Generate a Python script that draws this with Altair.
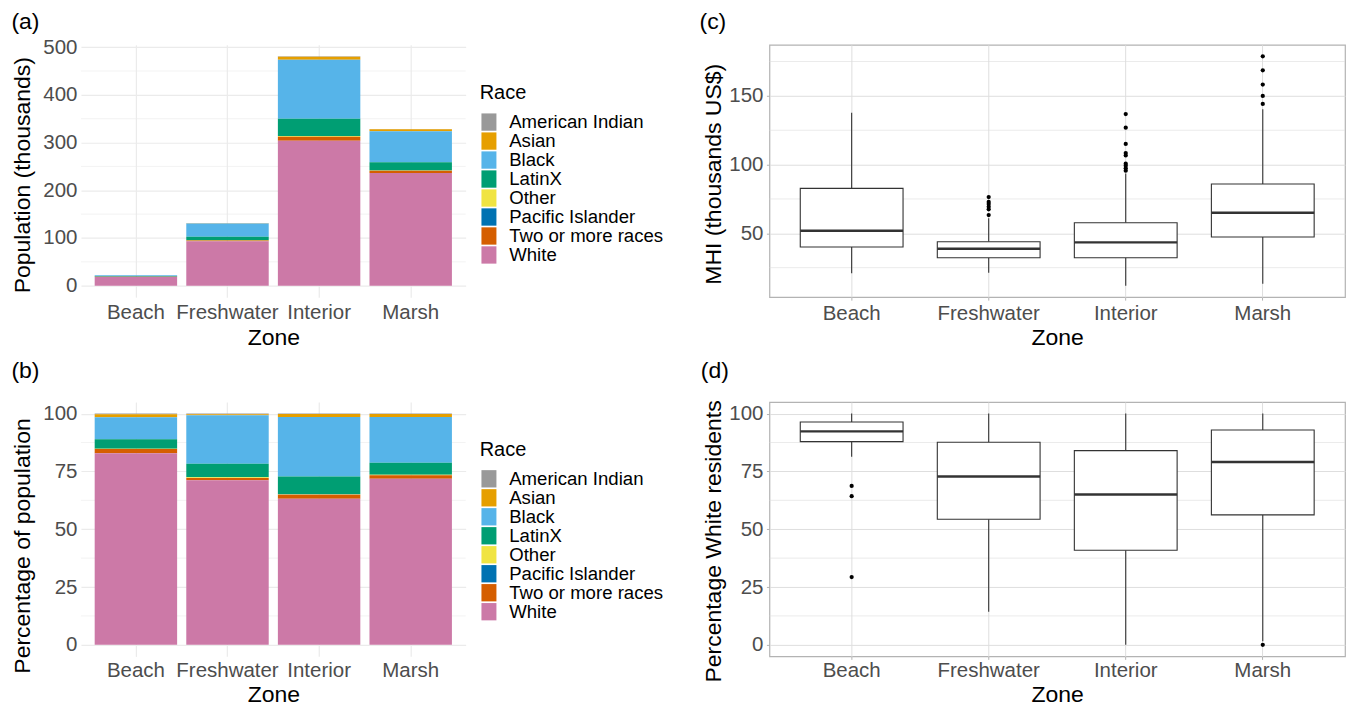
import altair as alt
import pandas as pd

FONT = "Liberation Sans"

zones = ["Beach", "Freshwater", "Interior", "Marsh"]
races = ["American Indian", "Asian", "Black", "LatinX", "Other",
         "Pacific Islander", "Two or more races", "White"]
race_colors = ["#999999", "#E69F00", "#56B4E9", "#009E73", "#F0E442",
               "#0072B2", "#D55E00", "#CC79A7"]

# population (thousands) per zone, in the order of `races`
pop_beach = [0.05, 0.3, 2.1, 0.9, 0.03, 0.01, 0.4, 18.3]
pop_freshwater = [0.4, 0.5, 27.6, 7.6, 0.4, 0.05, 1.3, 93.3]
pop_interior = [0.8, 6.2, 124.0, 36.0, 1.4, 0.2, 8.2, 304.0]
pop_marsh = [0.6, 4.2, 65.0, 17.0, 0.6, 0.1, 4.9, 236.0]

# MHI (thousands US$) box statistics per zone
mhi_lower = [20.9, 21.3, 11.9, 13.3]
mhi_q1 = [40.0, 32.2, 32.2, 47.3]
mhi_median = [51.9, 38.8, 43.4, 65.0]
mhi_q3 = [82.7, 43.9, 57.7, 85.9]
mhi_upper = [137.8, 61.0, 93.5, 140.2]
mhi_out_beach = []
mhi_out_freshwater = [63.3, 67.5, 69.4, 71.3, 72.8, 76.4]
mhi_out_interior = [95.6, 97.3, 99.2, 100.7, 106.7, 108.4, 115.0, 126.9, 136.8]
mhi_out_marsh = [144.1, 150.0, 158.2, 168.6, 178.8]

# Percentage White residents box statistics per zone
pw_lower = [81.3, 14.3, 0.0, 1.5]
pw_q1 = [87.9, 54.3, 40.9, 56.2]
pw_median = [92.3, 72.8, 65.0, 79.1]
pw_q3 = [96.4, 87.6, 84.0, 92.9]
pw_upper = [100.0, 100.0, 100.0, 100.0]
pw_out_beach = [68.7, 64.3, 29.3]
pw_out_freshwater = []
pw_out_interior = []
pw_out_marsh = [0.0]

# axis breaks
a_major = [0, 100, 200, 300, 400, 500]
a_minor = [50, 150, 250, 350, 450]
b_major = [0, 25, 50, 75, 100]
b_minor = [12.5, 37.5, 62.5, 87.5]
c_major = [50, 100, 150]
c_minor = [25, 75, 125, 175]
d_major = [0, 25, 50, 75, 100]
d_minor = [12.5, 37.5, 62.5, 87.5]

panel_tags = ["(a)", "(b)", "(c)", "(d)"]

# ---------------- data tables ----------------
rows = []
for z, vals in zip(zones, [pop_beach, pop_freshwater, pop_interior, pop_marsh]):
    for i, (r, v) in enumerate(zip(races, vals)):
        rows.append({"zone": z, "race": r, "race_idx": i, "pop": v})
pop_df = pd.DataFrame(rows)

mhi_df = pd.DataFrame({"zone": zones, "lower": mhi_lower, "q1": mhi_q1,
                       "median": mhi_median, "q3": mhi_q3, "upper": mhi_upper})
mhi_out_df = pd.DataFrame(
    [{"zone": z, "value": v} for z, lst in zip(zones, [mhi_out_beach, mhi_out_freshwater,
                                                       mhi_out_interior, mhi_out_marsh]) for v in lst])
pw_df = pd.DataFrame({"zone": zones, "lower": pw_lower, "q1": pw_q1,
                      "median": pw_median, "q3": pw_q3, "upper": pw_upper})
pw_out_df = pd.DataFrame(
    [{"zone": z, "value": v} for z, lst in zip(zones, [pw_out_beach, pw_out_freshwater,
                                                      pw_out_interior, pw_out_marsh]) for v in lst])

def expand(lo, hi):
    r = hi - lo
    return [lo - 0.05 * r, hi + 0.05 * r]

totals = pop_df.groupby("zone")["pop"].sum()
a_domain = expand(0, float(totals.max()))
b_domain = expand(0, 100)
c_domain = expand(min(min(mhi_lower), mhi_out_df["value"].min()),
                  max(max(mhi_upper), mhi_out_df["value"].max()))
d_domain = expand(min(min(pw_lower), pw_out_df["value"].min()),
                  max(max(pw_upper), pw_out_df["value"].max()))

W1, W2 = 385, 576
H_TOP, H_BOT = 252.5, 254.5

TICK_COL = "#4D4D4D"

def x_axis(light, label_pad, title_y):
    kw = dict(title="Zone", bandPosition=0.5, grid=True, domain=False, labelAngle=0,
              labelFontSize=20.5, labelColor=TICK_COL, labelFont=FONT,
              labelBaseline="alphabetic", labelOverlap=False, labelPadding=label_pad,
              titleFontSize=23, titleFont=FONT, titleFontWeight="normal", titleColor="black",
              titleBaseline="alphabetic", titleY=title_y)
    if light:
        kw.update(gridColor="#DEDEDE", gridWidth=1.0, ticks=True, tickColor="#B3B3B3",
                  tickSize=3, tickWidth=1.0)
    else:
        kw.update(gridColor="#EBEBEB", gridWidth=1.2, ticks=False)
    return alt.Axis(**kw)

def y_axis(title, values, light, title_x, title_y):
    kw = dict(title=title, values=values, grid=True, domain=False,
              labelFontSize=20.5, labelColor=TICK_COL, labelFont=FONT,
              titleFontSize=23, titleFont=FONT, titleFontWeight="normal", titleColor="black",
              titleX=title_x, titleY=title_y, titleAngle=270, titleBaseline="alphabetic",
              titleAlign="center")
    if light:
        kw.update(gridColor="#DEDEDE", gridWidth=1.0, ticks=True, tickColor="#B3B3B3",
                  tickSize=3, tickWidth=1.0, labelPadding=3.5)
    else:
        kw.update(gridColor="#EBEBEB", gridWidth=1.2, ticks=False, labelPadding=4)
    return alt.Axis(**kw)

def tag_layer(tag, x, y):
    return alt.Chart(pd.DataFrame({"tag": [tag]})).mark_text(
        align="left", baseline="alphabetic", fontSize=23, font=FONT, color="black"
    ).encode(text="tag:N", x=alt.value(x), y=alt.value(y))

KEY_PATH = "M-0.866,-1L0.866,-1L0.866,1L-0.866,1Z"

def race_legend(ly, tp):
    return alt.Legend(title="Race", orient="none", legendX=399, legendY=ly,
                      titleFontSize=20, titleFont=FONT, titleFontWeight="normal",
                      titleColor="black", titlePadding=tp,
                      labelFontSize=18.6, labelFont=FONT, labelColor="black",
                      symbolType=KEY_PATH, symbolSize=300, symbolStrokeWidth=0,
                      symbolOpacity=1, rowPadding=-0.75, labelOffset=11, padding=0)

color_scale = alt.Scale(domain=races, range=race_colors)
x_bar_scale = alt.Scale(domain=zones, paddingInner=0.1, paddingOuter=0.15)
x_box_scale = alt.Scale(domain=zones, paddingInner=0.25, paddingOuter=0.225)

def minor_rules(values, field, scale, axis, color, width):
    return alt.Chart(pd.DataFrame({field: values})).mark_rule(
        color=color, strokeWidth=width).encode(
        y=alt.Y(f"{field}:Q", scale=scale, axis=axis))

# ---------------- panel (a) ----------------
ya_scale = alt.Scale(domain=a_domain, nice=False, zero=False)
ya_axis = y_axis("Population (thousands)", a_major, False, -51.5, 130)
xa = alt.X("zone:N", sort=zones, scale=x_bar_scale, axis=x_axis(False, 21.7, 47.5))
a_minor_l = minor_rules(a_minor, "pop", ya_scale, ya_axis, "#EBEBEB", 0.6)
a_bars = alt.Chart(pop_df).mark_bar().encode(
    x=xa,
    y=alt.Y("pop:Q", stack="zero", scale=ya_scale, axis=ya_axis),
    color=alt.Color("race:N", scale=color_scale, legend=race_legend(38, 10)),
    order=alt.Order("race_idx:Q", sort="descending"),
)
panel_a = alt.layer(a_minor_l, a_bars, tag_layer(panel_tags[0], -69.6, -16.3)).properties(
    width=W1, height=H_TOP)

# ---------------- panel (b) ----------------
yb_scale = alt.Scale(domain=b_domain, nice=False, zero=False)
yb_axis = y_axis("Percentage of population", b_major, False, -51.5, 143.5)
xb = alt.X("zone:N", sort=zones, scale=x_bar_scale, axis=x_axis(False, 20, 45))
b_minor_l = minor_rules(b_minor, "pct", yb_scale, yb_axis, "#EBEBEB", 0.6)
b_bars = alt.Chart(pop_df).transform_joinaggregate(
    total="sum(pop)", groupby=["zone"]
).transform_calculate(
    pct="100 * datum.pop / datum.total"
).mark_bar().encode(
    x=xb,
    y=alt.Y("pct:Q", stack="zero", scale=yb_scale, axis=yb_axis),
    color=alt.Color("race:N", scale=color_scale, legend=race_legend(38, 9.5)),
    order=alt.Order("race_idx:Q", sort="descending"),
)
panel_b = alt.layer(b_minor_l, b_bars, tag_layer(panel_tags[1], -69.6, -24.5)).properties(
    width=W1, height=H_BOT)

# ---------------- box panels ----------------
BOX_COL = "#333333"
TICK_LEN = 0.75 * W2 / 4.2

def box_panel(df, out_df, domain, title, major, minor, tx, ty, tag, tag_x, tag_y, h,
              label_pad, xtitle_y):
    ys = alt.Scale(domain=domain, nice=False, zero=False)
    ya = y_axis(title, major, True, tx, ty)
    xx = alt.X("zone:N", sort=zones, scale=x_box_scale, axis=x_axis(True, label_pad, xtitle_y))
    m = minor_rules(minor, "lower", ys, ya, "#DEDEDE", 0.6)
    lo = alt.Chart(df).mark_rule(color=BOX_COL, strokeWidth=1.1).encode(
        x=xx, y=alt.Y("lower:Q", scale=ys, axis=ya), y2="q1:Q")
    hi = alt.Chart(df).mark_rule(color=BOX_COL, strokeWidth=1.1).encode(
        x=xx, y=alt.Y("q3:Q", scale=ys, axis=ya), y2="upper:Q")
    box = alt.Chart(df).mark_bar(fill="white", stroke=BOX_COL, strokeWidth=1.1).encode(
        x=xx, y=alt.Y("q1:Q", scale=ys, axis=ya), y2="q3:Q")
    med = alt.Chart(df).mark_tick(color=BOX_COL, thickness=2.4, size=TICK_LEN, opacity=1).encode(
        x=xx, y=alt.Y("median:Q", scale=ys, axis=ya))
    pts = alt.Chart(out_df).mark_circle(color="black", size=18, opacity=1).encode(
        x=xx, y=alt.Y("value:Q", scale=ys, axis=ya))
    return alt.layer(m, lo, hi, box, med, pts, tag_layer(tag, tag_x, tag_y)).properties(
        width=W2, height=h,
        view=alt.ViewBackground(stroke="#B3B3B3", strokeWidth=1.2))

panel_c = box_panel(mhi_df, mhi_out_df, c_domain, "MHI (thousands US$)", c_major, c_minor,
                    -49, 129, panel_tags[2], -70, -16.3, H_TOP, 19.5, 47.5)
panel_d = box_panel(pw_df, pw_out_df, d_domain, "Percentage White residents", d_major, d_minor,
                    -49, 139, panel_tags[3], -68.7, -24.4, H_BOT, 17.5, 45)

chart = alt.concat(panel_a, panel_c, panel_b, panel_d, columns=2,
                   spacing={"row": 104.5, "column": 304}, bounds="flush").resolve_scale(
    x="independent", y="independent", color="independent"
).configure_view(stroke="transparent").properties(
    padding={"left": 2, "top": 1.6, "right": 0, "bottom": 0},
    background="white")

chart.save("out.html", embed_options={"renderer": "svg", "actions": False})
